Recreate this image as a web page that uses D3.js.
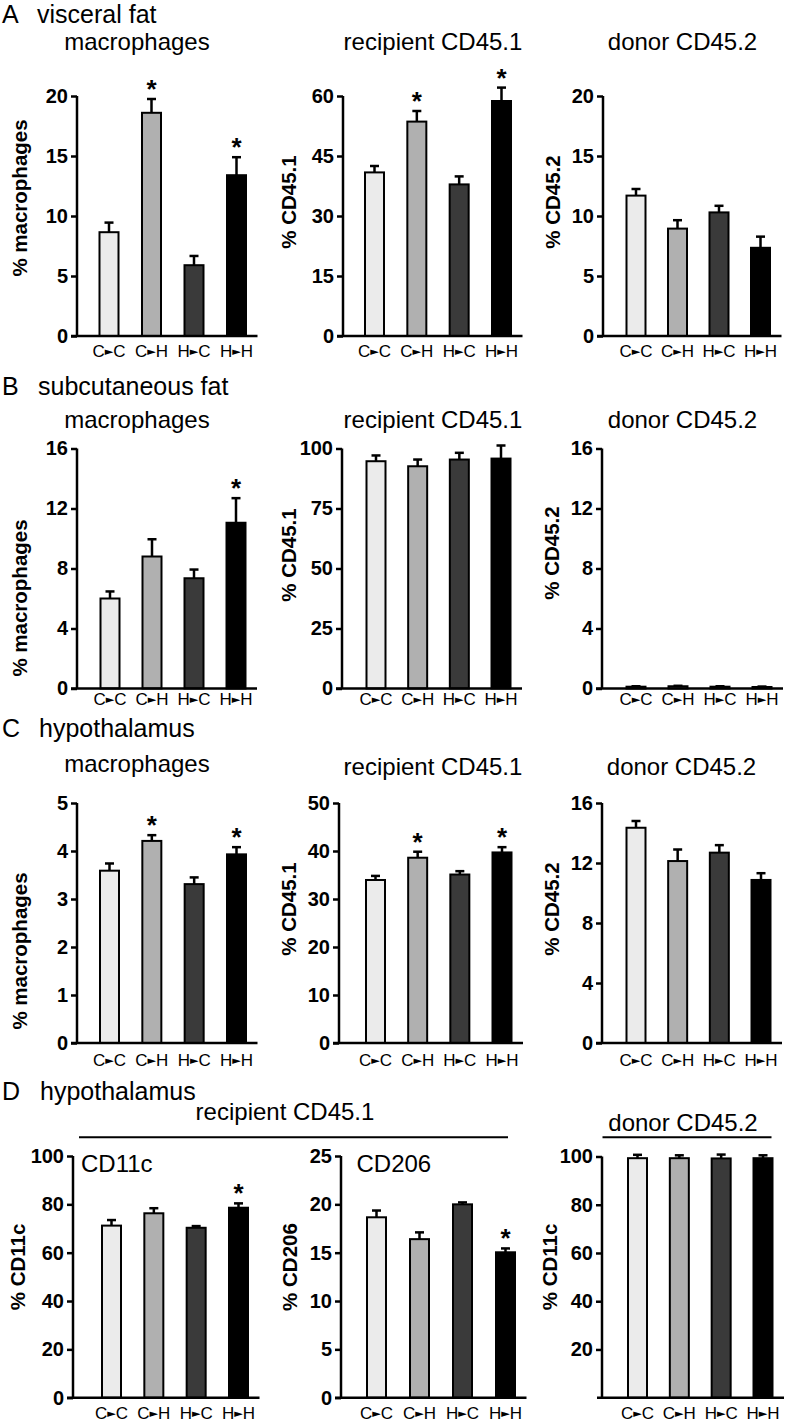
<!DOCTYPE html>
<html><head><meta charset="utf-8">
<script src="https://cdn.jsdelivr.net/npm/d3@7"></script>
<style>
html,body{margin:0;padding:0;background:#fff;}
text{font-family:"Liberation Sans",Arial,Helvetica,sans-serif;fill:#000;}
</style></head>
<body><svg id="c" width="787" height="1423"></svg>
<script>
// ---------- DATA ----------
const categories = ["C\u25BAC", "C\u25BAH", "H\u25BAC", "H\u25BAH"];
const barColors = ["#ebebeb", "#b0b0b0", "#3a3a3a", "#000000"];

// A: visceral fat
const visMacMean = [8.65, 18.6, 5.9, 13.4];
const visMacErr  = [0.8, 1.15, 0.77, 1.5];
const visMacSig  = [0, 1, 0, 1];
const visMacTicks = [0, 5, 10, 15, 20];

const visRecMean = [40.9, 53.6, 37.9, 58.75];
const visRecErr  = [1.6, 2.65, 2.0, 3.35];
const visRecSig  = [0, 1, 0, 1];
const visRecTicks = [0, 15, 30, 45, 60];

const visDonMean = [11.7, 8.95, 10.3, 7.35];
const visDonErr  = [0.55, 0.7, 0.55, 0.93];
const visDonSig  = [0, 0, 0, 0];
const visDonTicks = [0, 5, 10, 15, 20];

// B: subcutaneous fat
const subMacMean = [6.0, 8.8, 7.35, 11.05];
const subMacErr  = [0.47, 1.15, 0.58, 1.64];
const subMacSig  = [0, 0, 0, 1];
const subMacTicks = [0, 4, 8, 12, 16];

const subRecMean = [94.7, 92.6, 95.4, 95.8];
const subRecErr  = [2.4, 2.8, 2.8, 5.45];
const subRecSig  = [0, 0, 0, 0];
const subRecTicks = [0, 25, 50, 75, 100];

const subDonMean = [0.12, 0.15, 0.12, 0.1];
const subDonErr  = [0.03, 0.03, 0.03, 0.03];
const subDonSig  = [0, 0, 0, 0];
const subDonTicks = [0, 4, 8, 12, 16];

// C: hypothalamus
const hypMacMean = [3.59, 4.21, 3.31, 3.93];
const hypMacErr  = [0.15, 0.12, 0.14, 0.15];
const hypMacSig  = [0, 1, 0, 1];
const hypMacTicks = [0, 1, 2, 3, 4, 5];

const hypRecMean = [33.96, 38.6, 35.1, 39.7];
const hypRecErr  = [0.85, 1.25, 0.7, 1.1];
const hypRecSig  = [0, 1, 0, 1];
const hypRecTicks = [0, 10, 20, 30, 40, 50];

const hypDonMean = [14.35, 12.13, 12.69, 10.87];
const hypDonErr  = [0.45, 0.77, 0.5, 0.45];
const hypDonSig  = [0, 0, 0, 0];
const hypDonTicks = [0, 4, 8, 12, 16];

// D: hypothalamus subsets
const cd11cRecMean = [71.2, 76.3, 70.3, 78.6];
const cd11cRecErr  = [2.3, 2.1, 0.7, 1.8];
const cd11cRecSig  = [0, 0, 0, 1];
const cd11cRecTicks = [0, 20, 40, 60, 80, 100];

const cd206RecMean = [18.66, 16.4, 20.0, 15.04];
const cd206RecErr  = [0.7, 0.7, 0.2, 0.4];
const cd206RecSig  = [0, 0, 0, 1];
const cd206RecTicks = [0, 5, 10, 15, 20, 25];

const cd11cDonMean = [99.3, 99.3, 99.2, 99.3];
const cd11cDonErr  = [1.4, 1.2, 1.6, 1.2];
const cd11cDonSig  = [0, 0, 0, 0];
const cd11cDonTicks = [20, 40, 60, 80, 100];

// ---------- LAYOUT ----------
const panels = [
  {mean:visMacMean, err:visMacErr, sig:visMacSig, ticks:visMacTicks, max:20, ax:77, top:96, bot:336, c0:109, c3:236.5,
   title:"macrophages", tx:137, ty:50, yl:"% macrophages", ylx:19, yly:198, xly:357},
  {mean:visRecMean, err:visRecErr, sig:visRecSig, ticks:visRecTicks, max:60, ax:343, top:96, bot:336, c0:374.5, c3:501.5,
   title:"recipient CD45.1", tx:433, ty:50, yl:"% CD45.1", ylx:288, yly:202, xly:357},
  {mean:visDonMean, err:visDonErr, sig:visDonSig, ticks:visDonTicks, max:20, ax:603, top:96, bot:336, c0:636, c3:760.5,
   title:"donor CD45.2", tx:682.5, ty:50, yl:"% CD45.2", ylx:552, yly:202, xly:357},

  {mean:subMacMean, err:subMacErr, sig:subMacSig, ticks:subMacTicks, max:16, ax:77, top:448.5, bot:688.5, c0:110, c3:236,
   title:"macrophages", tx:137, ty:428, yl:"% macrophages", ylx:19, yly:598, xly:705},
  {mean:subRecMean, err:subRecErr, sig:subRecSig, ticks:subRecTicks, max:100, ax:342, top:448.5, bot:688.5, c0:376, c3:501,
   title:"recipient CD45.1", tx:433, ty:428, yl:"% CD45.1", ylx:288, yly:555, xly:705},
  {mean:subDonMean, err:subDonErr, sig:subDonSig, ticks:subDonTicks, max:16, ax:602, top:448.5, bot:688.5, c0:636, c3:762,
   title:"donor CD45.2", tx:682.5, ty:428, yl:"% CD45.2", ylx:551, yly:553, xly:705},

  {mean:hypMacMean, err:hypMacErr, sig:hypMacSig, ticks:hypMacTicks, max:5, ax:77, top:803, bot:1043, c0:109.5, c3:236.5,
   title:"macrophages", tx:137, ty:772, yl:"% macrophages", ylx:19, yly:951, xly:1066},
  {mean:hypRecMean, err:hypRecErr, sig:hypRecSig, ticks:hypRecTicks, max:50, ax:339, top:803, bot:1043, c0:375.5, c3:502,
   title:"recipient CD45.1", tx:433, ty:775, yl:"% CD45.1", ylx:288, yly:909, xly:1066},
  {mean:hypDonMean, err:hypDonErr, sig:hypDonSig, ticks:hypDonTicks, max:16, ax:602, top:803, bot:1043, c0:636, c3:761,
   title:"donor CD45.2", tx:681.5, ty:775, yl:"% CD45.2", ylx:551, yly:909, xly:1066},

  {mean:cd11cRecMean, err:cd11cRecErr, sig:cd11cRecSig, ticks:cd11cRecTicks, max:100, ax:73, top:1156, bot:1397.7, c0:111.5, c3:238.5,
   inner:"CD11c", ix:81, iy:1172, yl:"% CD11c", ylx:17.5, yly:1267, xly:1419},
  {mean:cd206RecMean, err:cd206RecErr, sig:cd206RecSig, ticks:cd206RecTicks, max:25, ax:341, top:1156, bot:1397.7, c0:376.5, c3:505.5,
   inner:"CD206", ix:356.5, iy:1172, yl:"% CD206", ylx:289.5, yly:1267, xly:1419},
  {mean:cd11cDonMean, err:cd11cDonErr, sig:cd11cDonSig, ticks:cd11cDonTicks, max:100, ax:602, top:1156.5, bot:1397.7, c0:637.5, c3:763,
   yl:"% CD11c", ylx:549, yly:1267, xly:1419, noZero:true}
];

const sections = [
  {letter:"A", text:"visceral fat", x:37, y:23},
  {letter:"B", text:"subcutaneous fat", x:38, y:395},
  {letter:"C", text:"hypothalamus", x:39, y:737},
  {letter:"D", text:"hypothalamus", x:40, y:1100}
];

// ---------- DRAW ----------
const svg = d3.select("#c");

sections.forEach(s => {
  svg.append("text").attr("x", 2).attr("y", s.y).attr("font-size", 25).text(s.letter);
  svg.append("text").attr("x", s.x).attr("y", s.y).attr("font-size", 25).text(s.text);
});

// D-row group headers
svg.append("text").attr("x", 285).attr("y", 1120).attr("text-anchor", "middle").attr("font-size", 24).text("recipient CD45.1");
svg.append("line").attr("x1", 79).attr("x2", 508).attr("y1", 1137.3).attr("y2", 1137.3).attr("stroke", "#000").attr("stroke-width", 2);
svg.append("text").attr("x", 683).attr("y", 1131).attr("text-anchor", "middle").attr("font-size", 24).text("donor CD45.2");
svg.append("line").attr("x1", 602.5).attr("x2", 771.5).attr("y1", 1137.3).attr("y2", 1137.3).attr("stroke", "#000").attr("stroke-width", 2);

panels.forEach(p => {
  const g = svg.append("g");
  const y = d3.scaleLinear().domain([0, p.max]).range([p.bot, p.top]);
  const x = d3.scalePoint().domain(categories).range([p.c0, p.c3]);
  const bw = 19;

  // bars
  g.selectAll("rect.bar").data(categories).join("rect")
    .attr("x", d => x(d) - bw / 2)
    .attr("width", bw)
    .attr("y", (d, i) => y(p.mean[i]))
    .attr("height", (d, i) => y(0) - y(p.mean[i]))
    .attr("fill", (d, i) => barColors[i])
    .attr("stroke", "#000").attr("stroke-width", 2);

  // error bars (upper only)
  g.selectAll("line.eb").data(categories).join("line")
    .attr("x1", d => x(d)).attr("x2", d => x(d))
    .attr("y1", (d, i) => y(p.mean[i]))
    .attr("y2", (d, i) => y(p.mean[i] + p.err[i]))
    .attr("stroke", "#000").attr("stroke-width", 2.5);
  g.selectAll("line.cap").data(categories).join("line")
    .attr("x1", d => x(d) - 4.5).attr("x2", d => x(d) + 4.5)
    .attr("y1", (d, i) => y(p.mean[i] + p.err[i]))
    .attr("y2", (d, i) => y(p.mean[i] + p.err[i]))
    .attr("stroke", "#000").attr("stroke-width", 2.5);

  // significance stars
  g.selectAll("text.star").data(categories.filter((d, i) => p.sig[i])).join("text")
    .attr("x", d => x(d))
    .attr("y", d => { const i = categories.indexOf(d); return y(p.mean[i] + p.err[i]) - 1; })
    .attr("text-anchor", "middle").attr("font-size", 26).attr("font-weight", "bold")
    .text("*");

  // y axis
  const axis = d3.axisLeft(y).tickValues(p.ticks).tickSize(6).tickSizeOuter(0).tickPadding(3)
    .tickFormat(d3.format("d"));
  const ag = g.append("g").attr("transform", `translate(${p.ax},0)`).call(axis);
  ag.select(".domain").attr("stroke-width", 2.5).attr("d", `M0,${p.top}V${p.bot}`);
  ag.selectAll(".tick line").attr("stroke-width", 2.5);
  ag.selectAll(".tick text").attr("font-size", 20).attr("font-weight", "bold")
    .attr("font-family", '"Liberation Sans",Arial,sans-serif').attr("fill", "#000");

  // baseline
  g.append("line").attr("x1", p.ax - (p.noZero ? 5 : 6)).attr("x2", p.c3 + 21)
    .attr("y1", y(0)).attr("y2", y(0)).attr("stroke", "#000").attr("stroke-width", 2.5);

  // x labels
  const xl = g.selectAll("text.xl").data(categories).join("text")
    .attr("x", d => x(d)).attr("y", p.xly).attr("text-anchor", "middle").attr("font-size", 17);
  xl.each(function(d) {
    const t = d3.select(this);
    const parts = d.split("\u25BA");
    t.append("tspan").text(parts[0]);
    t.append("tspan").attr("font-size", 11).attr("font-family", "DejaVu Sans").attr("dy", -2).text("\u25BA");
    t.append("tspan").attr("dy", 2).text(parts[1]);
  });

  // y label
  g.append("text").attr("transform", `translate(${p.ylx},${p.yly}) rotate(-90)`)
    .attr("text-anchor", "middle").attr("dominant-baseline", "central")
    .attr("font-size", 20.5).attr("font-weight", "bold").text(p.yl);

  // title
  if (p.title) g.append("text").attr("x", p.tx).attr("y", p.ty).attr("text-anchor", "middle")
    .attr("font-size", 24).text(p.title);
  if (p.inner) g.append("text").attr("x", p.ix).attr("y", p.iy).attr("font-size", 24).text(p.inner);
});
</script></body></html>
